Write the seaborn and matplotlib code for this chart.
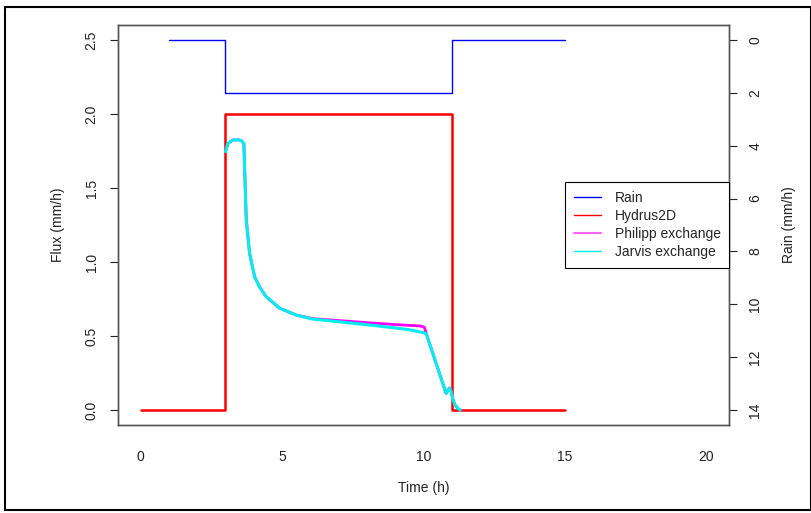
import numpy as np
import pandas as pd
import matplotlib
matplotlib.use("Agg")
import matplotlib.pyplot as plt
import seaborn as sns
from matplotlib.patches import Rectangle
from matplotlib.lines import Line2D

# step series
rain_t = [1, 3, 11, 15]
rain_v = [0, 2, 0, 0]
hydrus_t = [0, 3, 11, 15]
hydrus_v = [0, 2, 0, 0]

# Jarvis exchange
jarvis_t = [3.0, 3.085, 3.26, 3.45, 3.56, 3.65, 3.70, 3.735, 3.85, 4.03, 4.2, 4.44,
            4.91, 5.5, 6.08, 7.0, 8.0, 9.0, 9.5, 10.0, 10.1, 10.8, 10.92, 10.97,
            11.03, 11.1, 11.2, 11.3]
jarvis_v = [1.745, 1.80, 1.824, 1.825, 1.82, 1.80, 1.486, 1.284, 1.061, 0.90, 0.833, 0.766,
            0.689, 0.642, 0.615, 0.597, 0.577, 0.555, 0.543, 0.523, 0.515, 0.113, 0.15, 0.13,
            0.08, 0.04, 0.015, 0.0]

# Philipp exchange
philipp_t = [3.0, 3.085, 3.26, 3.45, 3.56, 3.65, 3.70, 3.735, 3.85, 4.03, 4.2, 4.44,
             4.91, 5.5, 6.08, 7.0, 8.0, 9.0, 9.9, 10.03, 10.15, 10.8, 10.92, 10.97,
             11.03, 11.1, 11.2, 11.3]
philipp_v = [1.745, 1.80, 1.824, 1.825, 1.82, 1.80, 1.486, 1.284, 1.061, 0.90, 0.833, 0.766,
             0.689, 0.642, 0.618, 0.605, 0.591, 0.578, 0.568, 0.56, 0.486, 0.113, 0.15, 0.13,
             0.08, 0.04, 0.015, 0.0]

sns.set_style("white")
plt.rcParams['font.family'] = ['Liberation Sans', 'DejaVu Sans']

fig = plt.figure(figsize=(8.12, 5.13), dpi=100)
ax = fig.add_axes([118 / 812, 1 - 425 / 513, (729 - 118) / 812, (425 - 25) / 513])
ax2 = ax.twinx()

col_rain = "#0000FF"
col_hyd = "#FF0000"
col_phi = "#FF00FF"
col_jar = "#00EEEE"

sns.lineplot(x=hydrus_t, y=hydrus_v, ax=ax, color=col_hyd, lw=1.8,
             drawstyle="steps-post", estimator=None, sort=False)
sns.lineplot(x=philipp_t, y=philipp_v, ax=ax, color=col_phi, lw=2.0,
             estimator=None, sort=False)
sns.lineplot(x=jarvis_t, y=jarvis_v, ax=ax, color=col_jar, lw=2.2,
             estimator=None, sort=False)
sns.lineplot(x=rain_t, y=rain_v, ax=ax2, color=col_rain, lw=1.0,
             drawstyle="steps-post", estimator=None, sort=False)

ax.set_xlim(-0.8, 20.8)
ax.set_ylim(-0.1, 2.6)
ax2.set_ylim(14.56, -0.56)

ax.set_xticks([0, 5, 10, 15, 20])
ax.set_yticks([0, 0.5, 1.0, 1.5, 2.0, 2.5])
ax.set_yticklabels(["0.0", "0.5", "1.0", "1.5", "2.0", "2.5"], rotation=90, va="center")
ax2.set_yticks(range(0, 15, 2))
ax2.set_yticklabels([str(v) for v in range(0, 15, 2)], rotation=90, va="center")

for a in (ax, ax2):
    for s in a.spines.values():
        s.set_color("#555555")
        s.set_linewidth(1.0)
    a.tick_params(direction="out", length=6, width=0.8, color="#222222",
                  labelsize=10, labelcolor="#222222", pad=8)
ax.tick_params(axis="x", pad=12)

ax.set_xlabel("Time (h)", fontsize=10, color="#222222", labelpad=12)
ax.set_ylabel("Flux (mm/h)", fontsize=10, color="#222222", labelpad=14)
ax2.set_ylabel("Rain (mm/h)", fontsize=10, color="#222222", rotation=90, labelpad=14)

handles = [Line2D([], [], color=col_rain, lw=1),
           Line2D([], [], color=col_hyd, lw=1),
           Line2D([], [], color="#FF66FF", lw=1.5),
           Line2D([], [], color=col_jar, lw=1)]
leg = ax2.legend(handles, ["Rain", "Hydrus2D", "Philipp exchange", "Jarvis exchange"],
                 loc="center right", bbox_to_anchor=(1.0, 0.5), borderaxespad=0,
                 fontsize=10, frameon=True, fancybox=False, framealpha=1,
                 edgecolor="black", handlelength=2.0, handletextpad=0.95,
                 labelspacing=0.3, borderpad=0.6)
leg.get_frame().set_linewidth(0.8)

fig.patches.append(Rectangle((5 / 812, 1 - 510 / 513), 806 / 812, 503 / 513,
                             transform=fig.transFigure, fill=False,
                             edgecolor="black", lw=1.5))

fig.savefig("out.png", dpi=100)
